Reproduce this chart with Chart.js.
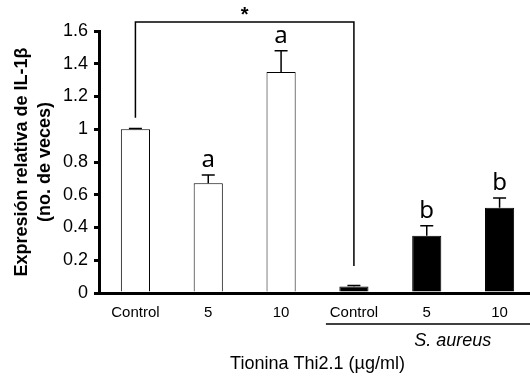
<!DOCTYPE html>
<html>
<head>
<meta charset="utf-8">
<script src="https://cdn.jsdelivr.net/npm/chart.js@4"></script>
<style>
  html, body { margin: 0; padding: 0; background: #fff; overflow: hidden; }
  #wrap { width: 536px; height: 379px; position: relative; }
</style>
</head>
<body>
<div id="wrap"><canvas id="chart"></canvas></div>
<script>
// data
var categories = ['Control', '5', '10', 'Control', '5', '10'];
var values = [1.0, 0.67, 1.35, 0.04, 0.35, 0.52];
var errors = [0.005, 0.05, 0.13, 0.006, 0.06, 0.06];
var letters = ['', 'a', 'a', '', 'b', 'b'];
var fills = ['#ffffff', '#ffffff', '#ffffff', '#000000', '#000000', '#000000'];
var yTicks = [0, 0.2, 0.4, 0.6, 0.8, 1, 1.2, 1.4, 1.6];
var yTickLabels = ['0', '0.2', '0.4', '0.6', '0.8', '1', '1.2', '1.4', '1.6'];

var FONT = 'Arial, "Liberation Sans", sans-serif';

var extras = {
    id: 'extras',
    afterDatasetsDraw: function(chart) {
        var ctx = chart.ctx;
        var x = chart.scales.x, y = chart.scales.y;
        var area = chart.chartArea;
        ctx.save();
        ctx.strokeStyle = '#000';
        ctx.fillStyle = '#000';

        // error bars + letters
        ctx.lineWidth = 1.5;
        for (var i = 0; i < values.length; i++) {
            var cx = x.getPixelForValue(i);
            var top = y.getPixelForValue(values[i]);
            var et = y.getPixelForValue(values[i] + errors[i]);
            ctx.beginPath();
            ctx.moveTo(cx, top);
            ctx.lineTo(cx, et);
            ctx.moveTo(cx - 6.5, et);
            ctx.lineTo(cx + 6.5, et);
            ctx.stroke();
            if (letters[i]) {
                ctx.font = '24px "Noto Sans", sans-serif';
                ctx.textAlign = 'center';
                ctx.textBaseline = 'alphabetic';
                ctx.fillText(letters[i], cx, et - 8);
            }
        }

        // significance bracket
        var x0 = x.getPixelForValue(0), x3 = x.getPixelForValue(3);
        var yb = y.getPixelForValue(1.655);
        ctx.lineWidth = 1.5;
        ctx.beginPath();
        ctx.moveTo(x0, y.getPixelForValue(1.07));
        ctx.lineTo(x0, yb);
        ctx.lineTo(x3, yb);
        ctx.lineTo(x3, y.getPixelForValue(0.165));
        ctx.stroke();
        ctx.font = 'bold 20px ' + FONT;
        ctx.textAlign = 'center';
        ctx.textBaseline = 'middle';
        ctx.fillText('*', (x0 + x3) / 2, yb - 7);

        // S. aureus group line and labels
        ctx.lineWidth = 1.5;
        ctx.beginPath();
        ctx.moveTo(x3 - 28, 324);
        ctx.lineTo(area.right, 324);
        ctx.stroke();
        ctx.font = 'italic 18px ' + FONT;
        ctx.fillText('S. aureus', x.getPixelForValue(4) + 26, 341);
        ctx.font = '18px ' + FONT;
        ctx.fillText('Tionina Thi2.1 (\u00b5g/ml)', (area.left + area.right) / 2, 364);
        ctx.restore();
    }
};

new Chart(document.getElementById('chart'), {
    type: 'bar',
    data: {
        labels: categories,
        datasets: [{
            data: values,
            backgroundColor: fills,
            borderColor: '#000',
            borderWidth: 1,
            barPercentage: 0.4,
            categoryPercentage: 1
        }]
    },
    options: {
        responsive: true,
        maintainAspectRatio: false,
        animation: false,
        layout: { padding: { top: 31, right: 0, bottom: 0, left: 0 } },
        plugins: { legend: { display: false }, tooltip: { enabled: false } },
        scales: {
            x: {
                grid: { display: false },
                border: { display: true, color: '#000', width: 3 },
                ticks: { color: '#000', font: { family: FONT, size: 15 }, padding: 3, maxRotation: 0 },
                afterFit: function(s) { s.height = 86; }
            },
            y: {
                min: 0,
                max: 1.6,
                afterBuildTicks: function(s) { s.ticks = yTicks.map(function(v) { return { value: v }; }); },
                grid: { drawOnChartArea: false, drawTicks: true, tickLength: 5, lineWidth: 3, color: '#000' },
                border: { display: true, color: '#000', width: 3 },
                ticks: {
                    color: '#000',
                    font: { family: FONT, size: 18 },
                    padding: 6,
                    callback: function(v, idx) { return yTickLabels[idx]; }
                },
                title: {
                    display: true,
                    text: ['Expresión relativa de IL-1β', '(no. de veces)'],
                    color: '#000',
                    font: { family: FONT, size: 18, weight: 'bold', lineHeight: 1.25 },
                    padding: { top: 11, bottom: 0 }
                },
                afterFit: function(s) { s.width = 99; }
            }
        }
    },
    plugins: [extras]
});
</script>
</body>
</html>
